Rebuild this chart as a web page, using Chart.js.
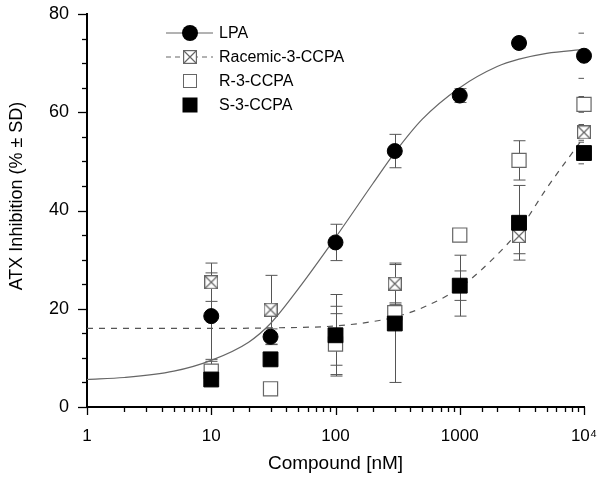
<!DOCTYPE html>
<html>
<head>
<meta charset="utf-8">
<script src="https://cdn.jsdelivr.net/npm/chart.js@4.4.0/dist/chart.umd.min.js"></script>
<style>
  html, body { margin: 0; padding: 0; background: #fff; }
</style>
</head>
<body>
<canvas id="chart" width="602" height="478"></canvas>
<script>
// Measured points (mean +/- SD)
const concentrations = [10, 30, 100, 300, 1000, 3000, 10000];
const lpaMean = [18.5, 14.3, 33.5, 52.1, 63.4, 74.1, 71.5];
const lpaSD = [8.8, 1.6, 3.7, 3.4, 1.4, 1.0, 4.6];
const racemicMean = [25.4, 19.8, 14.5, 25.1, 24.7, 34.8, 55.9];
const racemicSD = [3.9, 7.0, 6.0, 4.2, 3.0, 3.6, 1.6];
const rMean = [7.3, 3.7, 12.8, 19.2, 35.0, 50.2, 61.6];
const rSD = [2.0, 0.5, 6.2, 2.0, 1.0, 4.0, 1.6];
const sMean = [5.6, 9.7, 14.6, 17.0, 24.7, 37.5, 51.7];
const sSD = [1.0, 1.0, 8.3, 12.0, 6.2, 7.6, 2.2];

// Fitted curves
const lpaFitX = [1, 2, 5, 10, 20, 30, 50, 100, 200, 300, 500, 1000, 2000, 3000, 5000, 10000];
const lpaFitY = [5.6, 6.0, 7.3, 9.5, 13.2, 17.0, 24.0, 34.5, 45.5, 51.8, 58.6, 65.0, 69.3, 70.8, 72.0, 72.8];
const racFitX = [1, 10, 30, 100, 200, 300, 500, 1000, 2000, 3000, 5000, 10000];
const racFitY = [16.0, 16.0, 16.1, 16.5, 17.4, 18.3, 20.2, 24.3, 31.0, 36.0, 44.5, 55.0];

const yMajor = [0, 20, 40, 60, 80];
const xMajorLabels = { 1: '1', 10: '10', 100: '100', 1000: '1000', 10000: '10\u2074' };

const FONT = '"Liberation Sans", Arial, sans-serif';

function pts(xs, ys) {
    return xs.map((x, i) => ({ x: x, y: ys[i] }));
}

function crossedSquare(size) {
    const c = document.createElement('canvas');
    c.width = size;
    c.height = size;
    const g = c.getContext('2d');
    g.fillStyle = '#fff';
    g.fillRect(0, 0, size, size);
    g.strokeStyle = '#666';
    g.lineWidth = 1.2;
    g.strokeRect(0.6, 0.6, size - 1.2, size - 1.2);
    g.beginPath();
    g.moveTo(1, 1); g.lineTo(size - 1, size - 1);
    g.moveTo(size - 1, 1); g.lineTo(1, size - 1);
    g.stroke();
    return c;
}
const crossIcon = crossedSquare(14);

// error bars under the markers
const errorBars = {
    id: 'errorBars',
    beforeDatasetsDraw(chart) {
        const ctx = chart.ctx, area = chart.chartArea;
        const xs = chart.scales.x, ys = chart.scales.y;
        ctx.save();
        ctx.beginPath();
        ctx.rect(area.left, 0, area.right - area.left, area.bottom);
        ctx.clip();
        ctx.strokeStyle = '#555';
        ctx.lineWidth = 1;
        chart.data.datasets.forEach(ds => {
            if (!ds.sd) return;
            ds.data.forEach((p, i) => {
                const x = Math.round(xs.getPixelForValue(p.x)) + 0.5;
                const y1 = ys.getPixelForValue(p.y + ds.sd[i]);
                const y2 = ys.getPixelForValue(p.y - ds.sd[i]);
                ctx.beginPath();
                ctx.moveTo(x, y1); ctx.lineTo(x, y2);
                ctx.moveTo(x - 6, y1); ctx.lineTo(x + 6, y1);
                ctx.moveTo(x - 6, y2); ctx.lineTo(x + 6, y2);
                ctx.stroke();
            });
        });
        ctx.restore();
    }
};

// tick marks, y title and legend
const decorations = {
    id: 'decorations',
    afterDraw(chart) {
        const ctx = chart.ctx, area = chart.chartArea;
        const xs = chart.scales.x, ys = chart.scales.y;
        ctx.save();
        ctx.strokeStyle = '#000';
        ctx.lineWidth = 1.3;
        ys.ticks.forEach(t => {
            const y = Math.round(ys.getPixelForValue(t.value)) + 0.5;
            const len = yMajor.includes(t.value) ? 9 : 5;
            ctx.beginPath();
            ctx.moveTo(area.left, y); ctx.lineTo(area.left - len, y);
            ctx.stroke();
        });
        xs.ticks.forEach(t => {
            const x = Math.round(xs.getPixelForValue(t.value)) + 0.5;
            const len = xMajorLabels[t.value] ? 8 : 5;
            ctx.beginPath();
            ctx.moveTo(x, area.bottom); ctx.lineTo(x, area.bottom + len);
            ctx.stroke();
        });

        // y title
        ctx.fillStyle = '#000';
        ctx.font = '18px ' + FONT;
        ctx.textAlign = 'center';
        ctx.textBaseline = 'middle';
        ctx.translate(17, 196);
        ctx.rotate(-Math.PI / 2);
        ctx.fillText('ATX Inhibition (% \u00b1 SD)', 0, 0);
        ctx.setTransform(1, 0, 0, 1, 0, 0);

        // legend
        const lx = 190, rows = [33, 57, 81, 105];
        ctx.strokeStyle = '#666';
        ctx.lineWidth = 1;
        ctx.beginPath();
        ctx.moveTo(166, rows[0]); ctx.lineTo(213, rows[0]);
        ctx.stroke();
        ctx.setLineDash([5, 4]);
        ctx.beginPath();
        ctx.moveTo(166, rows[1]); ctx.lineTo(213, rows[1]);
        ctx.stroke();
        ctx.setLineDash([]);
        ctx.fillStyle = '#000';
        ctx.beginPath();
        ctx.arc(lx, rows[0], 8, 0, Math.PI * 2);
        ctx.fill();
        ctx.drawImage(crossIcon, lx - 7, rows[1] - 7);
        ctx.fillStyle = '#fff';
        ctx.fillRect(lx - 7, rows[2] - 7, 14, 14);
        ctx.strokeStyle = '#666';
        ctx.strokeRect(lx - 6.5, rows[2] - 6.5, 13, 13);
        ctx.fillStyle = '#000';
        ctx.fillRect(lx - 7.5, rows[3] - 7.5, 15, 15);

        ctx.font = '16px ' + FONT;
        ctx.textAlign = 'left';
        ctx.textBaseline = 'middle';
        ['LPA', 'Racemic-3-CCPA', 'R-3-CCPA', 'S-3-CCPA'].forEach((t, i) => {
            ctx.fillText(t, 219, rows[i] + 1);
        });
        ctx.restore();
    }
};

new Chart(document.getElementById('chart'), {
    type: 'scatter',
    data: {
        datasets: [
            {
                label: 'S-3-CCPA', data: pts(concentrations, sMean), sd: sSD, order: 0,
                pointStyle: 'rect', pointRadius: 10.5, pointBackgroundColor: '#000',
                pointBorderColor: '#000', pointBorderWidth: 1, clip: false
            },
            {
                label: 'R-3-CCPA', data: pts(concentrations, rMean), sd: rSD, order: 1,
                pointStyle: 'rect', pointRadius: 10, pointBackgroundColor: '#fff',
                pointBorderColor: '#666', pointBorderWidth: 1.2, clip: false
            },
            {
                label: 'Racemic-3-CCPA', data: pts(concentrations, racemicMean), sd: racemicSD, order: 2,
                pointStyle: crossIcon, pointRadius: 7, clip: false
            },
            {
                label: 'LPA', data: pts(concentrations, lpaMean), sd: lpaSD, order: 3,
                pointStyle: 'circle', pointRadius: 7.5, pointBackgroundColor: '#000',
                pointBorderColor: '#000', pointBorderWidth: 1, clip: false
            },
            {
                label: 'LPA fit', data: pts(lpaFitX, lpaFitY), order: 10,
                showLine: true, pointRadius: 0, borderColor: '#666', borderWidth: 1.2,
                cubicInterpolationMode: 'monotone'
            },
            {
                label: 'Racemic fit', data: pts(racFitX, racFitY), order: 11,
                showLine: true, pointRadius: 0, borderColor: '#555', borderWidth: 1.2,
                borderDash: [6, 6], cubicInterpolationMode: 'monotone'
            }
        ]
    },
    options: {
        responsive: false,
        animation: false,
        events: [],
        layout: { padding: { top: 14, right: 18, left: 0, bottom: 0 } },
        plugins: { legend: { display: false }, tooltip: { enabled: false } },
        scales: {
            x: {
                type: 'logarithmic',
                min: 1,
                max: 10000,
                afterFit(scale) {
                    scale.height = 71;
                    scale.paddingLeft = 0;
                    scale.paddingRight = 0;
                },
                grid: { display: false, drawTicks: false },
                border: { display: true, color: '#000', width: 2 },
                ticks: {
                    color: '#000',
                    font: { family: FONT, size: 17 },
                    padding: 19,
                    autoSkip: false,
                    maxRotation: 0,
                    callback: v => xMajorLabels[v] || ''
                },
                title: {
                    display: true,
                    text: 'Compound [nM]',
                    color: '#000',
                    font: { family: FONT, size: 19 },
                    padding: { top: 0, bottom: 3 }
                }
            },
            y: {
                min: 0,
                max: 80,
                afterFit(scale) {
                    scale.width = 87;
                    scale.paddingTop = 0;
                    scale.paddingBottom = 0;
                },
                grid: { display: false, drawTicks: false },
                border: { display: true, color: '#000', width: 2 },
                ticks: {
                    stepSize: 5,
                    color: '#000',
                    font: { family: FONT, size: 18 },
                    padding: 18,
                    autoSkip: false,
                    callback: v => yMajor.includes(v) ? String(v) : ''
                }
            }
        }
    },
    plugins: [errorBars, decorations]
});
</script>
</body>
</html>
